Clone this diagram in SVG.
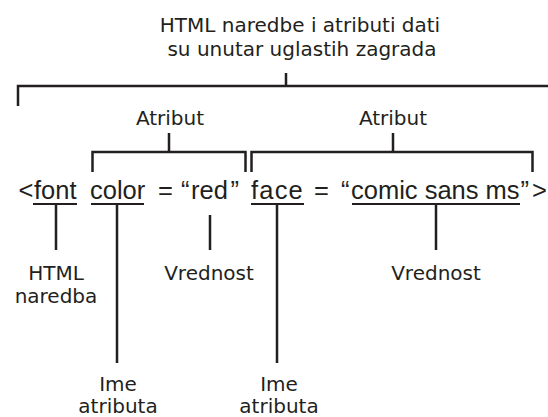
<svg xmlns="http://www.w3.org/2000/svg" width="548" height="417" viewBox="0 0 548 417">
<style>
.lbl{font-family:"DejaVu Sans","Liberation Sans",sans-serif;font-size:20px;fill:#231f20;text-anchor:middle}
.code{font-family:"Liberation Sans",Arial,sans-serif;font-size:25.5px;fill:#231f20}
.ln{stroke:#231f20;stroke-width:2.5;fill:none;stroke-linecap:butt}
.ul{stroke:#231f20;stroke-width:2;fill:none}
</style>
<rect width="548" height="417" fill="#ffffff"/>
<g id="title">
<text class="lbl" x="300" y="32">HTML naredbe i atributi dati</text>
<text class="lbl" x="302" y="56">su unutar uglastih zagrada</text>
</g>
<g id="atribut1"><text class="lbl" x="170" y="125">Atribut</text></g>
<g id="atribut2"><text class="lbl" x="393" y="125">Atribut</text></g>
<g id="code">
<text class="code" x="18.5" y="199">&lt;</text>
<text class="code" x="34" y="199">font</text>
<text class="code" x="90" y="199">color</text>
<text class="code" x="158" y="199">=</text>
<text class="code" x="181" y="199">“</text>
<text class="code" x="191" y="199">red</text>
<text class="code" x="230.5" y="199">”</text>
<text class="code" x="251" y="199" letter-spacing="1.2">face</text>
<text class="code" x="314" y="199">=</text>
<text class="code" x="341" y="199">“</text>
<text class="code" x="351" y="199">comic sans ms</text>
<text class="code" x="520.5" y="199">”</text>
<text class="code" x="532" y="199">&gt;</text>
</g>
<g id="html-naredba">
<text class="lbl" x="56" y="280">HTML</text>
<text class="lbl" x="56" y="303">naredba</text>
</g>
<g id="vrednost1"><text class="lbl" x="209" y="280">Vrednost</text></g>
<g id="vrednost2"><text class="lbl" x="436" y="280">Vrednost</text></g>
<g id="ime1">
<text class="lbl" x="118" y="391">Ime</text>
<text class="lbl" x="118" y="413">atributa</text>
</g>
<g id="ime2">
<text class="lbl" x="279" y="391">Ime</text>
<text class="lbl" x="279" y="413">atributa</text>
</g>
<g id="connectors">
<path class="ln" d="M18,106 V86 H548 M286,73 V86"/>
<path class="ln" d="M92.5,172 V152 H245.5 V172 M169,133 V152"/>
<path class="ln" d="M251.5,172 V152 H532.5 V172 M393,133 V152"/>
<path class="ul" d="M33,204 H77 M91,204 H144 M251,204 H304 M352,204 H520"/>
<path class="ln" d="M56,204 V250 M117,204 V363 M210,215 V250 M277,204 V363 M436,204 V250"/>
</g>
</svg>
